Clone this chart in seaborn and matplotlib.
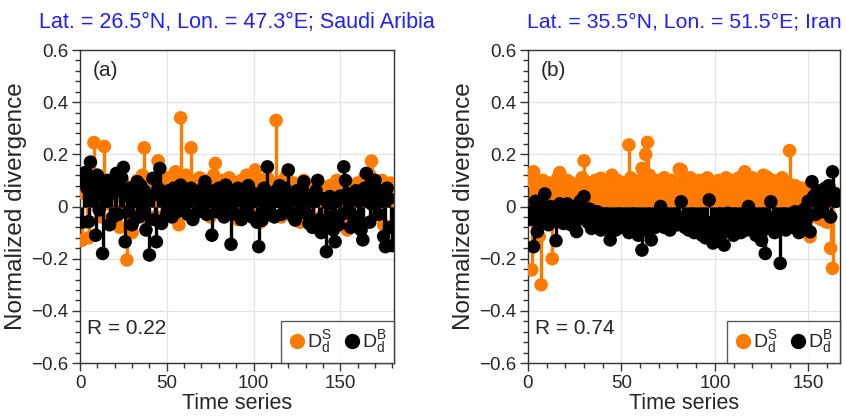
import numpy as np
import pandas as pd
import seaborn as sns
import matplotlib
matplotlib.use("Agg")
import matplotlib.pyplot as plt
from matplotlib.ticker import MultipleLocator, FuncFormatter
from matplotlib.lines import Line2D

# ---------------- data ----------------
titles = ["Lat. = 26.5°N, Lon. = 47.3°E; Saudi Aribia",
          "Lat. = 35.5°N, Lon. = 51.5°E; Iran"]
panel_labels = ["(a)", "(b)"]
r_values = ["R = 0.22", "R = 0.74"]
legend_labels = [r"$\mathregular{D_d^S}$", r"$\mathregular{D_d^B}$"]

a_s = [-0.13, 0.05, 0.10, -0.06, -0.12, 0.08, 0.02, 0.245, 0.12, 0.06,
       0.03, -0.04, 0.10, 0.23, 0.07, 0.01, 0.09, -0.05, 0.04, 0.11,
       0.06, -0.02, -0.08, 0.05, 0.09, 0.02, -0.205, 0.07, -0.03, -0.10,
       0.04, 0.08, 0.10, -0.02, 0.06, 0.12, 0.225, 0.03, -0.05, 0.08,
       0.05, 0.10, -0.04, 0.07, 0.175, 0.09, 0.02, 0.06, -0.03, 0.08,
       0.11, 0.04, 0.07, 0.10, 0.133, 0.05, -0.07, 0.34, 0.08, 0.03,
       0.12, 0.06, 0.09, 0.225, 0.04, 0.10, -0.02, 0.07, 0.11, 0.05,
       0.08, 0.02, 0.10, 0.06, -0.04, 0.09, 0.12, 0.165, 0.04, 0.07,
       0.03, 0.10, 0.06, -0.03, 0.08, 0.11, 0.05, 0.02, 0.09, 0.06,
       -0.05, 0.07, 0.10, 0.04, 0.08, 0.12, 0.03, 0.06, -0.02, 0.09,
       0.14, 0.05, 0.08, -0.06, 0.10, 0.07, 0.04, 0.11, 0.06, 0.02,
       0.09, 0.05, 0.33, 0.08, 0.03, -0.04, 0.10, 0.07, 0.12, 0.04,
       0.06, -0.03, 0.09, 0.05, 0.08, 0.02, -0.06, 0.07, 0.10, 0.04,
       0.06, -0.02, 0.08, 0.05, -0.07, 0.03, 0.09, 0.06, -0.04, 0.07,
       0.02, 0.05, -0.06, 0.08, 0.04, -0.03, 0.06, 0.10, 0.03, -0.05,
       0.07, 0.04, -0.02, -0.09, 0.06, 0.02, -0.04, 0.08, 0.05, 0.09,
       0.03, -0.06, 0.07, 0.11, 0.04, 0.09, 0.12, 0.174, 0.06, 0.03,
       0.08, -0.03, 0.05, 0.10, -0.07, 0.04, 0.07, 0.02, 0.09, 0.06]

a_b = [-0.06, 0.10, 0.13, 0.07, -0.058, 0.17, 0.09, 0.04, -0.11, 0.12,
       -0.013, 0.06, -0.18, 0.08, 0.02, 0.10, -0.07, 0.05, -0.04, 0.09,
       0.127, -0.03, 0.06, 0.11, 0.15, -0.135, 0.04, -0.02, 0.07, -0.07,
       0.02, 0.05, 0.095, -0.04, 0.08, -0.01, 0.06, -0.09, 0.03, -0.186,
       0.04, 0.108, -0.05, -0.135, 0.07, 0.146, -0.065, 0.02, 0.05, -0.03,
       0.06, 0.01, -0.04, 0.07, 0.03, -0.02, 0.05, 0.082, -0.01, 0.04,
       0.06, -0.03, 0.02, 0.07, -0.05, 0.03, 0.05, -0.02, 0.06, 0.01,
       0.04, 0.095, -0.03, 0.05, 0.02, -0.11, 0.06, 0.03, -0.02, 0.07,
       0.01, 0.05, -0.04, 0.082, 0.03, -0.02, -0.145, 0.06, 0.02, -0.03,
       0.07, 0.04, -0.05, 0.02, 0.06, -0.01, 0.08, 0.03, -0.04, 0.05,
       0.02, -0.06, -0.154, 0.04, -0.052, 0.07, 0.01, 0.152, -0.02, 0.05,
       0.03, -0.04, 0.06, 0.02, 0.08, -0.03, 0.04, 0.07, -0.01, 0.14,
       0.05, 0.02, -0.04, -0.052, 0.06, 0.03, -0.02, 0.07, 0.095, 0.01,
       -0.03, -0.065, 0.04, -0.08, 0.02, 0.06, 0.10, -0.05, -0.10, 0.03,
       -0.06, -0.173, 0.01, 0.038, -0.04, -0.09, -0.135, 0.02, -0.07, 0.04,
       -0.03, 0.152, 0.10, 0.05, -0.02, -0.08, 0.03, -0.05, 0.06, -0.04,
       0.02, -0.09, -0.128, 0.07, 0.127, 0.04, -0.06, 0.01, 0.08, 0.10,
       0.05, -0.03, 0.06, 0.02, -0.115, -0.154, 0.07, 0.03, -0.08, -0.15]

b_s = [0.10, -0.243, 0.133, 0.08, 0.05, -0.115, -0.30, 0.10, 0.06, 0.02,
       0.09, 0.04, -0.20, -0.06, 0.07, 0.11, 0.13, 0.05, 0.08, 0.03,
       0.10, 0.06, 0.09, 0.04, 0.07, 0.02, 0.08, 0.05, 0.11, 0.175,
       0.095, 0.06, 0.03, 0.08, 0.05, 0.10, 0.07, 0.04, 0.108, 0.06,
       0.09, 0.05, 0.07, 0.03, 0.12, 0.08, 0.06, 0.10, 0.04, 0.07,
       0.09, 0.05, 0.08, 0.236, 0.11, 0.06, 0.04, 0.09, 0.07, 0.10,
       0.146, 0.08, 0.20, 0.246, 0.12, 0.07, 0.09, 0.05, 0.10, 0.06,
       0.08, 0.04, 0.11, 0.07, 0.09, 0.05, 0.10, 0.06, 0.08, 0.04,
       0.143, 0.14, 0.07, 0.10, 0.05, 0.08, 0.11, 0.06, 0.09, 0.04,
       0.07, 0.10, 0.05, 0.08, 0.06, 0.11, 0.07, 0.09, 0.089, 0.05,
       0.08, 0.10, 0.06, 0.09, 0.07, 0.11, 0.05, 0.08, 0.10, 0.06,
       0.09, 0.07, 0.11, 0.08, 0.10, 0.133, 0.06, 0.09, 0.07, 0.11,
       0.08, 0.10, 0.06, 0.09, 0.07, 0.12, 0.05, 0.112, 0.08, 0.06,
       0.10, 0.07, 0.09, 0.05, 0.08, 0.11, 0.06, 0.04, 0.09, 0.214,
       0.07, 0.05, 0.08, 0.03, 0.06, 0.02, 0.07, 0.04, -0.02, 0.05,
       -0.116, 0.03, 0.06, -0.04, 0.02, 0.05, -0.05, 0.01, 0.04, -0.06,
       0.03, -0.16, -0.237, 0.02, 0.05]

b_b = [-0.05, -0.02, -0.154, 0.02, -0.096, -0.04, 0.01, -0.06, 0.048, -0.03,
       -0.07, 0.00, -0.05, -0.02, -0.131, -0.04, 0.01, -0.06, -0.065, -0.02,
       0.01, -0.04, -0.07, -0.03, 0.00, -0.096, -0.05, 0.02, -0.03, 0.038,
       -0.02, -0.06, -0.01, -0.084, -0.04, -0.07, -0.02, -0.05, -0.09, -0.03,
       -0.06, -0.08, -0.04, -0.128, -0.07, -0.05, -0.09, -0.03, -0.06, -0.08,
       -0.04, -0.07, -0.05, -0.10, -0.06, -0.03, -0.08, -0.05, -0.11, -0.07,
       -0.167, -0.06, -0.09, -0.04, -0.07, -0.128, -0.05, -0.08, -0.03, -0.06,
       0.00, -0.05, -0.08, -0.04, -0.07, -0.09, -0.05, -0.06, -0.03, -0.07,
       -0.04, 0.018, -0.06, -0.08, -0.05, -0.09, -0.04, -0.07, -0.10, -0.06,
       -0.08, -0.05, -0.109, -0.07, -0.12, -0.06, 0.025, -0.09, -0.14, -0.07,
       -0.10, -0.06, -0.12, -0.08, -0.148, -0.05, -0.026, -0.09, -0.07, -0.11,
       -0.06, -0.08, -0.04, -0.10, -0.07, -0.05, -0.09, 0.00, -0.06, -0.08,
       -0.04, -0.11, -0.07, -0.05, -0.13, -0.09, -0.18, -0.06, -0.04, 0.018,
       -0.07, -0.10, -0.05, -0.08, -0.218, -0.06, -0.03, -0.09, -0.05, -0.07,
       -0.04, -0.08, -0.02, -0.06, -0.10, -0.03, -0.07, -0.01, -0.05, 0.02,
       -0.097, 0.095, 0.04, -0.03, 0.06, 0.01, 0.05, -0.02, 0.07, 0.03,
       0.08, -0.04, 0.133, 0.05, 0.02]

x_limits = [181, 167]
x_ticks = [0, 50, 100, 150]
y_ticks = [-0.6, -0.4, -0.2, 0.0, 0.2, 0.4, 0.6]

ORANGE = "#ff7b00"
BLACK = "#000000"

# ---------------- style ----------------
sns.set_style("ticks")
plt.rcParams['font.family'] = ['Liberation Sans', 'DejaVu Sans']
plt.rcParams['mathtext.fontset'] = 'custom'
plt.rcParams['mathtext.rm'] = 'Liberation Sans'
plt.rcParams['mathtext.it'] = 'Liberation Sans:italic'

fig = plt.figure(figsize=(8.46, 4.16), dpi=100)
ax1 = fig.add_axes([0.0946, 0.1274, 0.3712, 0.7524])
ax2 = fig.add_axes([0.6241, 0.1274, 0.3688, 0.7524])


def yfmt(v, pos):
    if abs(v) < 1e-9:
        return "0"
    return f"{v:.1f}".replace("-", "\u2212")


def draw_panel(ax, s_vals, b_vals, xmax, title, plabel, rtext, tsize):
    xs = np.arange(1, len(s_vals) + 1)
    xb = np.arange(1, len(b_vals) + 1)
    df_s = pd.DataFrame({"t": xs, "v": s_vals})
    df_b = pd.DataFrame({"t": xb, "v": b_vals})

    ax.vlines(df_s["t"], 0, df_s["v"], color=ORANGE, lw=2.4, zorder=2)
    sns.scatterplot(data=df_s, x="t", y="v", color=ORANGE, s=95,
                    edgecolor="none", linewidth=0, ax=ax, zorder=3)
    ax.vlines(df_b["t"], 0, df_b["v"], color=BLACK, lw=2.4, zorder=4)
    sns.scatterplot(data=df_b, x="t", y="v", color=BLACK, s=95,
                    edgecolor="none", linewidth=0, ax=ax, zorder=5)

    ax.set_xlim(0, xmax)
    ax.set_ylim(-0.6, 0.6)
    ax.set_xticks(x_ticks)
    ax.set_yticks(y_ticks)
    ax.xaxis.set_minor_locator(MultipleLocator(10))
    ax.yaxis.set_minor_locator(MultipleLocator(0.04))
    ax.yaxis.set_major_formatter(FuncFormatter(yfmt))
    ax.tick_params(which="major", direction="out", length=6, width=1,
                   labelsize=13.5, color="#333333", top=False, right=False,
                   pad=2.5)
    ax.tick_params(which="minor", direction="out", length=3.5, width=1,
                   color="#333333", top=False, right=False)
    ax.grid(True, which="major", color="#e3e3e3", lw=0.9, zorder=0)
    ax.set_axisbelow(True)
    for sp in ax.spines.values():
        sp.set_visible(True)
        sp.set_color("#333333")
        sp.set_linewidth(1.0)

    ax.set_xlabel("Time series", fontsize=15.5, labelpad=1)
    ax.set_ylabel("Normalized divergence", fontsize=17.5, labelpad=3)
    ax.set_title(title, color="#1f1fff", fontsize=tsize, pad=16)

    ax.text(0.04, 0.965, plabel, transform=ax.transAxes, fontsize=15,
            va="top", ha="left")
    ax.text(0.022, 0.11, rtext, transform=ax.transAxes, fontsize=15,
            va="center", ha="left")

    handles = [Line2D([], [], marker="o", color=ORANGE, ls="none", markersize=10),
               Line2D([], [], marker="o", color=BLACK, ls="none", markersize=10)]
    leg = ax.legend(handles, legend_labels, loc="lower right", ncol=2,
                    borderaxespad=0, frameon=True, fancybox=False,
                    fontsize=14, handletextpad=0.05, columnspacing=0.6,
                    handlelength=0.9, borderpad=0.4)
    leg.get_frame().set_edgecolor("#333333")
    leg.get_frame().set_linewidth(1.0)
    leg.set_zorder(10)


draw_panel(ax1, a_s, a_b, x_limits[0], titles[0], panel_labels[0], r_values[0], 15.5)
draw_panel(ax2, b_s, b_b, x_limits[1], titles[1], panel_labels[1], r_values[1], 15.3)

fig.savefig("out.png", dpi=100)
